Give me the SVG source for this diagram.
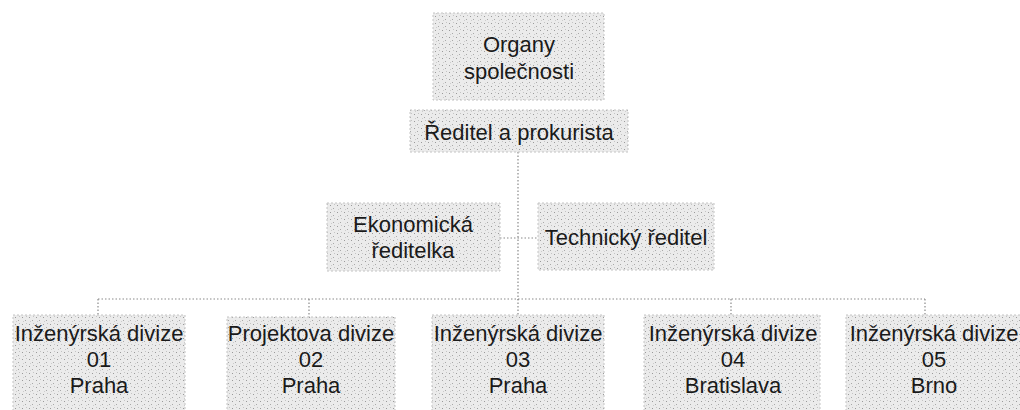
<svg xmlns="http://www.w3.org/2000/svg" width="1020" height="410" viewBox="0 0 1020 410">
<defs>
<pattern id="stip" width="7" height="7" patternUnits="userSpaceOnUse">
<rect width="7" height="7" fill="#ebebeb"/>
<rect x="1" y="2" width="1" height="1" fill="#9a9a9a"/>
<rect x="4" y="5" width="1" height="1" fill="#a8a8a8"/>
<rect x="5" y="1" width="1" height="1" fill="#c4c4c4"/>
<rect x="2" y="6" width="1" height="1" fill="#cccccc"/>
</pattern>
<style>
.box{fill:url(#stip);stroke:#c4c4c4;stroke-width:1;stroke-dasharray:2 2}
.t{font-family:"Liberation Sans",Arial,sans-serif;font-size:22px;fill:#1a1a1a;text-anchor:middle}
.c{fill:none;stroke:#8a8a8a;stroke-width:1.2;stroke-dasharray:1.5 2}
</style>
</defs>
<rect width="1020" height="410" fill="#ffffff"/>
<g id="connectors">
<line class="c" x1="518" y1="152" x2="518" y2="300"/>
<line class="c" x1="500" y1="238" x2="538" y2="238"/>
<line class="c" x1="98" y1="299" x2="925" y2="299"/>
<line class="c" x1="98" y1="299" x2="98" y2="315"/>
<line class="c" x1="309" y1="299" x2="309" y2="317"/>
<line class="c" x1="518" y1="299" x2="518" y2="315"/>
<line class="c" x1="731" y1="299" x2="731" y2="315"/>
<line class="c" x1="925" y1="299" x2="925" y2="315"/>
</g>
<g id="organy">
<rect class="box" x="433" y="13" width="171" height="87"/>
<text class="t" x="519" y="52">Organy</text>
<text class="t" x="519" y="79">společnosti</text>
</g>
<g id="reditel">
<rect class="box" x="410" y="110" width="218" height="42"/>
<text class="t" x="519" y="140">Ředitel a prokurista</text>
</g>
<g id="ekonomicka">
<rect class="box" x="327" y="203" width="173" height="68"/>
<text class="t" x="413" y="232">Ekonomická</text>
<text class="t" x="413" y="258">ředitelka</text>
</g>
<g id="technicky">
<rect class="box" x="538" y="203" width="176" height="67"/>
<text class="t" x="626" y="245">Technický ředitel</text>
</g>
<g id="divize01">
<rect class="box" x="13" y="315" width="172" height="100"/>
<text class="t" x="99" y="341">Inženýrská divize</text>
<text class="t" x="99" y="367">01</text>
<text class="t" x="99" y="393">Praha</text>
</g>
<g id="divize02">
<rect class="box" x="227" y="317" width="168" height="98"/>
<text class="t" x="311" y="341">Projektova divize</text>
<text class="t" x="311" y="367">02</text>
<text class="t" x="311" y="393">Praha</text>
</g>
<g id="divize03">
<rect class="box" x="432" y="315" width="172" height="100"/>
<text class="t" x="518" y="341">Inženýrská divize</text>
<text class="t" x="518" y="367">03</text>
<text class="t" x="518" y="393">Praha</text>
</g>
<g id="divize04">
<rect class="box" x="644" y="315" width="176" height="100"/>
<text class="t" x="733" y="341">Inženýrská divize</text>
<text class="t" x="733" y="367">04</text>
<text class="t" x="733" y="393">Bratislava</text>
</g>
<g id="divize05">
<rect class="box" x="846" y="315" width="180" height="100"/>
<text class="t" x="934" y="341">Inženýrská divize</text>
<text class="t" x="934" y="367">05</text>
<text class="t" x="934" y="393">Brno</text>
</g>
</svg>
